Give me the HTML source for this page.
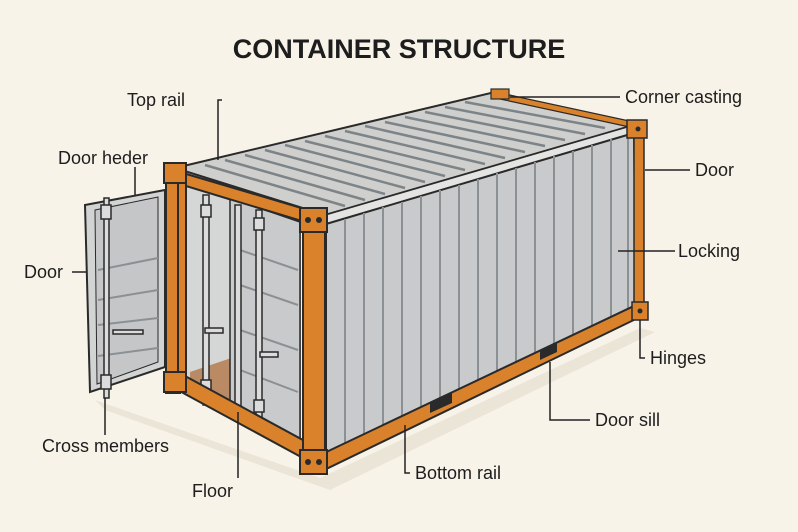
<!DOCTYPE html>
<html><head><meta charset="utf-8"><style>
html,body{margin:0;padding:0;background:#f8f3e8;}
svg{display:block}
text{font-family:"Liberation Sans",sans-serif;fill:#1d1d1d;}
</style></head><body>
<svg width="798" height="532" viewBox="0 0 798 532" xmlns="http://www.w3.org/2000/svg">
<rect width="798" height="532" fill="#f8f3e8"/>
<text x="399" y="58" text-anchor="middle" font-size="27" font-weight="bold" fill="#222">CONTAINER STRUCTURE</text>

<polygon points="95,400 320,478 640,328 655,332 330,490 105,410" fill="#ebe5d8"/>

<polygon points="175,168 495,92 634,125 325,215" fill="#cfcfcd" stroke="#2a2a2a" stroke-width="2"/>
<polygon points="180,172 325,215 326,224 180,180" fill="#e4e4e2" stroke="#2a2a2a" stroke-width="1.5"/>
<polygon points="325,215 634,125 634,133 326,224" fill="#e4e4e2" stroke="#2a2a2a" stroke-width="1.5"/>
<g stroke="#7d8488" stroke-width="2.5">
<line x1="205" y1="165" x2="345" y2="206"/><line x1="225" y1="160" x2="365" y2="200"/>
<line x1="245" y1="155" x2="385" y2="194"/><line x1="265" y1="150" x2="405" y2="188"/>
<line x1="285" y1="145" x2="425" y2="182"/><line x1="305" y1="141" x2="445" y2="176"/>
<line x1="325" y1="136" x2="465" y2="170"/><line x1="345" y1="131" x2="485" y2="164"/>
<line x1="365" y1="126" x2="505" y2="158"/><line x1="385" y1="122" x2="525" y2="152"/>
<line x1="405" y1="117" x2="545" y2="146"/><line x1="425" y1="112" x2="565" y2="140"/>
<line x1="445" y1="107" x2="585" y2="134"/><line x1="465" y1="102" x2="605" y2="128"/>
</g>
<polygon points="500,93 634,122 634,128 500,99" fill="#d9822b" stroke="#2a2a2a" stroke-width="1.2"/>
<rect x="491" y="89" width="18" height="10" fill="#d9822b" stroke="#2a2a2a" stroke-width="1.2"/>

<polygon points="326,224 634,133 636,305 326,455" fill="#c9cacb" stroke="#2a2a2a" stroke-width="2"/>
<g stroke="#8a9094" stroke-width="2">
<line x1="345" y1="219" x2="345" y2="446"/><line x1="364" y1="213" x2="364" y2="437"/>
<line x1="383" y1="207" x2="383" y2="428"/><line x1="402" y1="202" x2="402" y2="419"/>
<line x1="421" y1="196" x2="421" y2="410"/><line x1="440" y1="190" x2="440" y2="401"/>
<line x1="459" y1="185" x2="459" y2="392"/><line x1="478" y1="179" x2="478" y2="383"/>
<line x1="497" y1="173" x2="497" y2="374"/><line x1="516" y1="168" x2="516" y2="365"/>
<line x1="535" y1="162" x2="535" y2="356"/><line x1="554" y1="156" x2="554" y2="347"/>
<line x1="573" y1="151" x2="573" y2="338"/><line x1="592" y1="145" x2="592" y2="329"/>
<line x1="611" y1="139" x2="611" y2="320"/><line x1="628" y1="135" x2="628" y2="310"/>
</g>
<polygon points="320,455 636,305 640,317 320,472" fill="#d9822b" stroke="#2a2a2a" stroke-width="2"/>
<polygon points="430,402 452,392 452,403 430,413" fill="#2a2a2a"/>
<polygon points="540,350 557,342 557,352 540,360" fill="#2a2a2a"/>
<rect x="634" y="128" width="10" height="190" fill="#d9822b" stroke="#2a2a2a" stroke-width="1.5"/>
<rect x="627" y="120" width="20" height="18" fill="#d9822b" stroke="#2a2a2a" stroke-width="1.5"/>
<rect x="632" y="302" width="16" height="18" fill="#d9822b" stroke="#2a2a2a" stroke-width="1.5"/>

<polygon points="184,185 300,222 300,440 184,380" fill="#d5d6d6" stroke="#2a2a2a" stroke-width="1.5"/>
<polygon points="190,372 240,355 300,380 300,440 190,384" fill="#b98a63"/>
<polygon points="230,198 300,222 300,440 230,405" fill="#c9cacb" stroke="#2a2a2a" stroke-width="1.5"/>
<g stroke="#8a9094" stroke-width="2"><line x1="240" y1="250" x2="298" y2="270"/><line x1="240" y1="285" x2="298" y2="305"/><line x1="240" y1="330" x2="298" y2="350"/><line x1="240" y1="370" x2="298" y2="392"/></g>
<g stroke="#2a2a2a" stroke-width="1.5" fill="#dcdcdc">
<rect x="203" y="195" width="6" height="210"/><rect x="235" y="205" width="6" height="210"/><rect x="256" y="210" width="6" height="215"/>
<rect x="201" y="205" width="10" height="12"/><rect x="201" y="380" width="10" height="12"/>
<rect x="254" y="218" width="10" height="12"/><rect x="254" y="400" width="10" height="12"/>
<rect x="260" y="352" width="18" height="5"/><rect x="205" y="328" width="18" height="5"/>
</g>
<g fill="#d9822b" stroke="#2a2a2a" stroke-width="2">
<polygon points="166,168 325,215 325,228 166,180"/>
<polygon points="174,370 325,452 325,470 174,388"/>
<rect x="166" y="165" width="14" height="228"/>
<rect x="178" y="172" width="8" height="214"/>
<rect x="303" y="212" width="22" height="258"/>
<rect x="164" y="163" width="22" height="20"/>
<rect x="300" y="208" width="27" height="24"/>
<rect x="300" y="450" width="27" height="24"/>
<rect x="164" y="372" width="22" height="20"/>
</g>
<g fill="#2a2a2a"><circle cx="308" cy="220" r="3"/><circle cx="319" cy="220" r="3"/><circle cx="308" cy="462" r="3"/><circle cx="319" cy="462" r="3"/><circle cx="638" cy="129" r="2.5"/><circle cx="640" cy="311" r="2.5"/></g>

<polygon points="85,205 165,190 165,367 90,392" fill="#d2d3d3" stroke="#2a2a2a" stroke-width="2"/>
<polygon points="95,210 158,197 158,362 97,384" fill="#c5c6c7" stroke="#2a2a2a" stroke-width="1"/>
<g stroke="#8a9094" stroke-width="2"><line x1="98" y1="270" x2="158" y2="258"/><line x1="98" y1="300" x2="158" y2="290"/><line x1="98" y1="325" x2="158" y2="318"/><line x1="98" y1="356" x2="158" y2="348"/></g>
<g stroke="#2a2a2a" stroke-width="1.5" fill="#dcdcdc">
<rect x="104" y="198" width="5" height="200"/><rect x="101" y="205" width="10" height="14"/><rect x="101" y="375" width="10" height="14"/>
<rect x="113" y="330" width="30" height="4"/>
</g>

<g stroke="#222" stroke-width="1.5" fill="none">
<polyline points="222,100 218,100 218,160"/>
<line x1="620" y1="97" x2="510" y2="97"/>
<line x1="135" y1="167" x2="135" y2="195"/>
<line x1="690" y1="170" x2="645" y2="170"/>
<line x1="72" y1="272" x2="86" y2="272"/>
<line x1="675" y1="251" x2="618" y2="251"/>
<polyline points="645,358 640,358 640,320"/>
<polyline points="590,420 550,420 550,362"/>
<line x1="105" y1="435" x2="105" y2="398"/>
<polyline points="410,473 405,473 405,425"/>
<line x1="238" y1="478" x2="238" y2="412"/>
</g>
<g font-size="18">
<text x="127" y="106">Top rail</text>
<text x="625" y="103">Corner casting</text>
<text x="58" y="164">Door heder</text>
<text x="695" y="176">Door</text>
<text x="24" y="278">Door</text>
<text x="678" y="257">Locking</text>
<text x="650" y="364">Hinges</text>
<text x="595" y="426">Door sill</text>
<text x="42" y="452">Cross members</text>
<text x="415" y="479">Bottom rail</text>
<text x="192" y="497">Floor</text>
</g>
</svg>
</body></html>
